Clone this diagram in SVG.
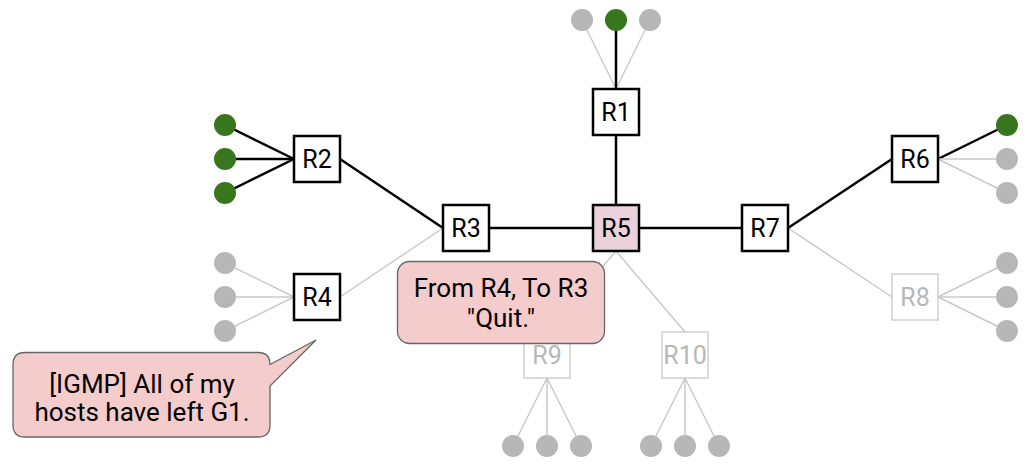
<svg xmlns="http://www.w3.org/2000/svg" width="1036" height="466" viewBox="0 0 1036 466">
<style>
.on{stroke:#000;stroke-width:2.5;fill:none}
.off{stroke:#c8c8c8;stroke-width:1.4;fill:none}
.box{fill:#fff;stroke:#000;stroke-width:2.5}
.gbox{fill:#fff;stroke:#cccccc;stroke-width:1.4}
.lbl{font-family:Roboto,"Liberation Sans",sans-serif;font-size:25px;text-anchor:middle;fill:#000}
.glbl{font-family:Roboto,"Liberation Sans",sans-serif;font-size:25px;text-anchor:middle;fill:#b7b7b7}
.ctxt{font-family:Roboto,"Liberation Sans",sans-serif;font-size:26px;text-anchor:middle;fill:#000}
.hg{fill:#38761d}
.hx{fill:#b7b7b7}
.call{fill:#f4cccc;stroke:#666666;stroke-width:1.3}
</style>
<rect width="1036" height="466" fill="#fff"/>
<g id="connectors">
  <line class="off" x1="582" y1="20" x2="616" y2="89"/>
  <line class="off" x1="650" y1="20" x2="616" y2="89"/>
  <line class="on" x1="616" y1="20" x2="616" y2="89"/>
  <line class="on" x1="225" y1="125" x2="294" y2="159"/>
  <line class="on" x1="225" y1="159" x2="294" y2="159"/>
  <line class="on" x1="225" y1="193" x2="294" y2="159"/>
  <line class="on" x1="1007" y1="125" x2="938" y2="159"/>
  <line class="off" x1="1007" y1="159" x2="938" y2="159"/>
  <line class="off" x1="1007" y1="193" x2="938" y2="159"/>
  <line class="off" x1="225" y1="263" x2="294" y2="297"/>
  <line class="off" x1="225" y1="297" x2="294" y2="297"/>
  <line class="off" x1="225" y1="331" x2="294" y2="297"/>
  <line class="off" x1="1007" y1="263" x2="938" y2="297"/>
  <line class="off" x1="1007" y1="297" x2="938" y2="297"/>
  <line class="off" x1="1007" y1="331" x2="938" y2="297"/>
  <line class="off" x1="513" y1="446" x2="547" y2="378"/>
  <line class="off" x1="547" y1="446" x2="547" y2="378"/>
  <line class="off" x1="581" y1="446" x2="547" y2="378"/>
  <line class="off" x1="651" y1="446" x2="685" y2="378"/>
  <line class="off" x1="685" y1="446" x2="685" y2="378"/>
  <line class="off" x1="719" y1="446" x2="685" y2="378"/>
  <line class="on" x1="340" y1="159" x2="443" y2="228"/>
  <line class="off" x1="340" y1="297" x2="443" y2="228"/>
  <line class="on" x1="489" y1="228" x2="593" y2="228"/>
  <line class="on" x1="639" y1="228" x2="742" y2="228"/>
  <line class="on" x1="616" y1="135" x2="616" y2="205"/>
  <line class="on" x1="788" y1="228" x2="892" y2="159"/>
  <line class="off" x1="788" y1="228" x2="892" y2="297"/>
  <line class="off" x1="616" y1="251" x2="547" y2="332"/>
  <line class="off" x1="616" y1="251" x2="685" y2="332"/>
</g>
<g id="hosts">
  <circle class="hx" cx="582" cy="20" r="11"/>
  <circle class="hg" cx="616" cy="20" r="11"/>
  <circle class="hx" cx="650" cy="20" r="11"/>
  <circle class="hg" cx="225" cy="125" r="11"/>
  <circle class="hg" cx="225" cy="159" r="11"/>
  <circle class="hg" cx="225" cy="193" r="11"/>
  <circle class="hg" cx="1007" cy="125" r="11"/>
  <circle class="hx" cx="1007" cy="159" r="11"/>
  <circle class="hx" cx="1007" cy="193" r="11"/>
  <circle class="hx" cx="225" cy="263" r="11"/>
  <circle class="hx" cx="225" cy="297" r="11"/>
  <circle class="hx" cx="225" cy="331" r="11"/>
  <circle class="hx" cx="1007" cy="263" r="11"/>
  <circle class="hx" cx="1007" cy="297" r="11"/>
  <circle class="hx" cx="1007" cy="331" r="11"/>
  <circle class="hx" cx="513" cy="446" r="11"/>
  <circle class="hx" cx="547" cy="446" r="11"/>
  <circle class="hx" cx="581" cy="446" r="11"/>
  <circle class="hx" cx="651" cy="446" r="11"/>
  <circle class="hx" cx="685" cy="446" r="11"/>
  <circle class="hx" cx="719" cy="446" r="11"/>
</g>
<g id="R1"><rect class="box" x="593" y="89" width="46" height="46"/><text class="lbl" x="616" y="121">R1</text></g>
<g id="R2"><rect class="box" x="294" y="136" width="46" height="46"/><text class="lbl" x="317" y="168">R2</text></g>
<g id="R3"><rect class="box" x="443" y="205" width="46" height="46"/><text class="lbl" x="466" y="237">R3</text></g>
<g id="R4"><rect class="box" x="294" y="274" width="46" height="46"/><text class="lbl" x="317" y="306">R4</text></g>
<g id="R5"><rect class="box" x="593" y="205" width="46" height="46" style="fill:#ead1dc"/><text class="lbl" x="616" y="237">R5</text></g>
<g id="R6"><rect class="box" x="892" y="136" width="46" height="46"/><text class="lbl" x="915" y="168">R6</text></g>
<g id="R7"><rect class="box" x="742" y="205" width="46" height="46"/><text class="lbl" x="765" y="237">R7</text></g>
<g id="R8"><rect class="gbox" x="892" y="274" width="46" height="46"/><text class="glbl" x="915" y="306">R8</text></g>
<g id="R9"><rect class="gbox" x="524" y="332" width="46" height="46"/><text class="glbl" x="547" y="364">R9</text></g>
<g id="R10"><rect class="gbox" x="662" y="332" width="46" height="46"/><text class="glbl" x="685" y="364">R10</text></g>
<g id="callout-quit">
  <rect class="call" x="397.5" y="261.5" width="207" height="82" rx="12"/>
  <text class="ctxt" x="501" y="297">From R4, To R3</text>
  <text class="ctxt" x="501" y="327">"Quit."</text>
</g>
<g id="callout-igmp">
  <path class="call" d="M25,352.5 H258 Q270,352.5 270,364.5 L316,340 L270,386 V425 Q270,437 258,437 H25 Q13,437 13,425 V364.5 Q13,352.5 25,352.5 Z"/>
  <text class="ctxt" x="142" y="393">[IGMP] All of my</text>
  <text class="ctxt" x="142" y="421">hosts have left G1.</text>
</g>
</svg>
